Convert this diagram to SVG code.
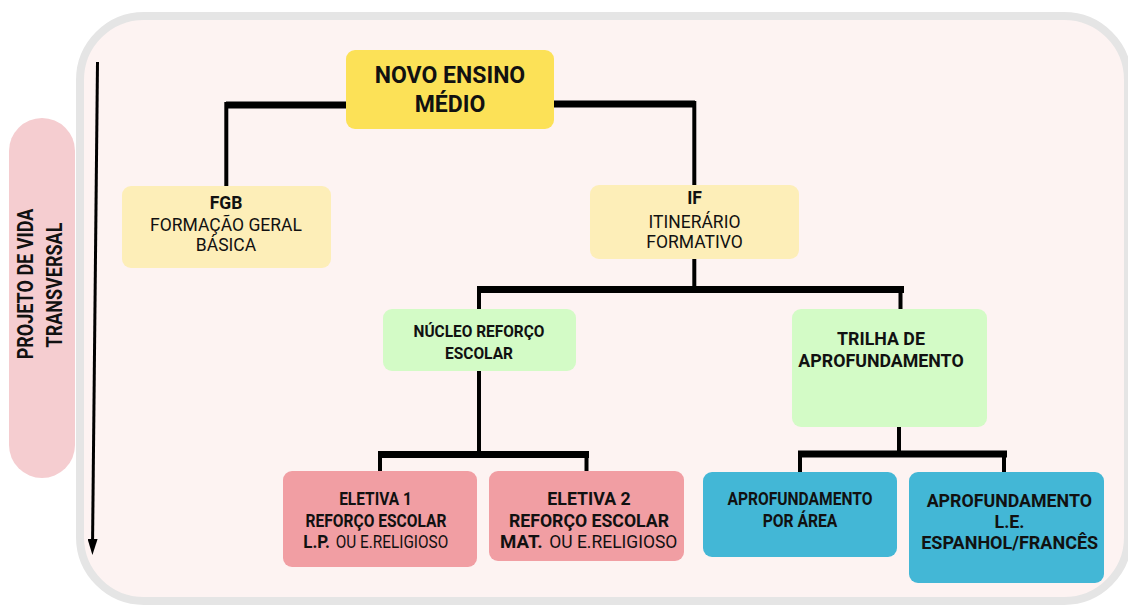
<svg xmlns="http://www.w3.org/2000/svg" width="1128" height="605" viewBox="0 0 1128 605">
<style>
text{font-family:Roboto,"Liberation Sans",sans-serif;fill:#111;text-anchor:middle}
.b{font-weight:bold}
.s{text-anchor:start}
.bar{stroke:#000;stroke-width:7;fill:none}
.ln{stroke:#000;stroke-width:4;fill:none}
</style>
<defs>
<marker id="ah" viewBox="0 0 16 10" refX="8" refY="5" markerWidth="16" markerHeight="10" markerUnits="userSpaceOnUse" orient="auto-start-reverse">
<path d="M0,0 L16,5 L0,10 Z" fill="#000"/>
</marker>
</defs>
<rect width="1128" height="605" fill="#fff"/>
<rect x="80" y="16" width="1048" height="585" rx="64" fill="#fdf3f2" stroke="#e5e5e5" stroke-width="8"/>
<g id="projeto-vida">
<rect x="9" y="118" width="66" height="360" rx="33" fill="#f5cdd0"/>
<text class="b" font-size="18" transform="translate(33.3,284) rotate(-90) scale(1,1.2)">PROJETO DE VIDA</text>
<text class="b" font-size="18" transform="translate(62,285) rotate(-90) scale(1,1.2)">TRANSVERSAL</text>
</g>
<g id="connectors">
<path d="M97.5,62 L92.5,547" stroke="#000" stroke-width="3" fill="none" marker-end="url(#ah)"/>
<path class="bar" d="M226,105 L346,105"/>
<path class="ln" d="M226.3,102 L226.3,186"/>
<path class="bar" d="M554,104 L695,104"/>
<path class="ln" d="M694.3,101 L694.3,185"/>
<path class="ln" d="M694.3,259 L694.3,289"/>
<path class="bar" d="M477,289.5 L904,289.5"/>
<path class="ln" d="M479,289 L479,309"/>
<path class="ln" d="M900.5,289 L900.5,309"/>
<path class="ln" d="M479,371 L479,454"/>
<path class="bar" d="M378,454.5 L589,454.5"/>
<path class="ln" d="M380,454 L380,471"/>
<path class="ln" d="M586.5,454 L586.5,471"/>
<path class="ln" d="M899,427 L899,454"/>
<path class="bar" d="M798,454 L1007,454"/>
<path class="ln" d="M800,454 L800,472"/>
<path class="ln" d="M1004,454 L1004,472"/>
</g>
<g id="novo-ensino-medio">
<rect x="346" y="50" width="208" height="79" rx="9" fill="#fce157"/>
<text class="b" x="450" y="83" font-size="23">NOVO ENSINO</text>
<text class="b" x="450" y="112" font-size="23">MÉDIO</text>
</g>
<g id="fgb">
<rect x="122" y="186" width="209" height="82" rx="9" fill="#fdeeb8"/>
<text class="b" x="226" y="209" font-size="17.5">FGB</text>
<text x="226" y="231" font-size="17.5">FORMAÇÃO GERAL</text>
<text x="226" y="251" font-size="17.5">BÁSICA</text>
</g>
<g id="if">
<rect x="590" y="185" width="209" height="74" rx="9" fill="#fdeeb8"/>
<text class="b" x="694.5" y="204" font-size="17.5">IF</text>
<text x="694.5" y="228" font-size="17.5">ITINERÁRIO</text>
<text x="694.5" y="248" font-size="17.5">FORMATIVO</text>
</g>
<g id="nucleo">
<rect x="383" y="309" width="193" height="62" rx="9" fill="#d3fbc6"/>
<text class="b" x="479" y="337.3" font-size="17" textLength="131" lengthAdjust="spacingAndGlyphs">NÚCLEO REFORÇO</text>
<text class="b" x="479" y="359" font-size="17" textLength="68" lengthAdjust="spacingAndGlyphs">ESCOLAR</text>
</g>
<g id="trilha">
<rect x="792" y="309" width="195" height="118" rx="9" fill="#d3fbc6"/>
<text class="b" x="881" y="345" font-size="17.8">TRILHA DE</text>
<text class="b" x="881" y="366.7" font-size="17.8">APROFUNDAMENTO</text>
</g>
<g id="eletiva1">
<rect x="283" y="471" width="194" height="96" rx="9" fill="#f19ea3"/>
<text class="b" x="375.5" y="505" font-size="18" textLength="72.7" lengthAdjust="spacingAndGlyphs">ELETIVA 1</text>
<text class="b" x="376" y="526.7" font-size="18" textLength="141" lengthAdjust="spacingAndGlyphs">REFORÇO ESCOLAR</text>
<text class="b s" x="303.3" y="547.7" font-size="18" textLength="26.7" lengthAdjust="spacingAndGlyphs">L.P.</text>
<text class="s" x="335.7" y="547.7" font-size="18" textLength="112.6" lengthAdjust="spacingAndGlyphs">OU E.RELIGIOSO</text>
</g>
<g id="eletiva2">
<rect x="489" y="471" width="195" height="90" rx="9" fill="#f19ea3"/>
<text class="b" x="589" y="505" font-size="18" textLength="83.3" lengthAdjust="spacingAndGlyphs">ELETIVA 2</text>
<text class="b" x="589" y="527" font-size="18" textLength="160" lengthAdjust="spacingAndGlyphs">REFORÇO ESCOLAR</text>
<text class="b s" x="500" y="547.7" font-size="18" textLength="42.7" lengthAdjust="spacingAndGlyphs">MAT.</text>
<text class="s" x="549.3" y="547.7" font-size="18" textLength="128" lengthAdjust="spacingAndGlyphs">OU E.RELIGIOSO</text>
</g>
<g id="aprof-area">
<rect x="703" y="472" width="194" height="85" rx="9" fill="#43b7d6"/>
<text class="b" x="800" y="505" font-size="18" textLength="145" lengthAdjust="spacingAndGlyphs">APROFUNDAMENTO</text>
<text class="b" x="800" y="526.7" font-size="18" textLength="74.7" lengthAdjust="spacingAndGlyphs">POR ÁREA</text>
</g>
<g id="aprof-le">
<rect x="909" y="472" width="195" height="111" rx="9" fill="#43b7d6"/>
<text class="b" x="1009.3" y="506.7" font-size="17.8">APROFUNDAMENTO</text>
<text class="b" x="1009.5" y="528.3" font-size="17.8">L.E.</text>
<text class="b" x="1009.7" y="549.3" font-size="17.8" textLength="177" lengthAdjust="spacingAndGlyphs">ESPANHOL/FRANCÊS</text>
</g>
</svg>
